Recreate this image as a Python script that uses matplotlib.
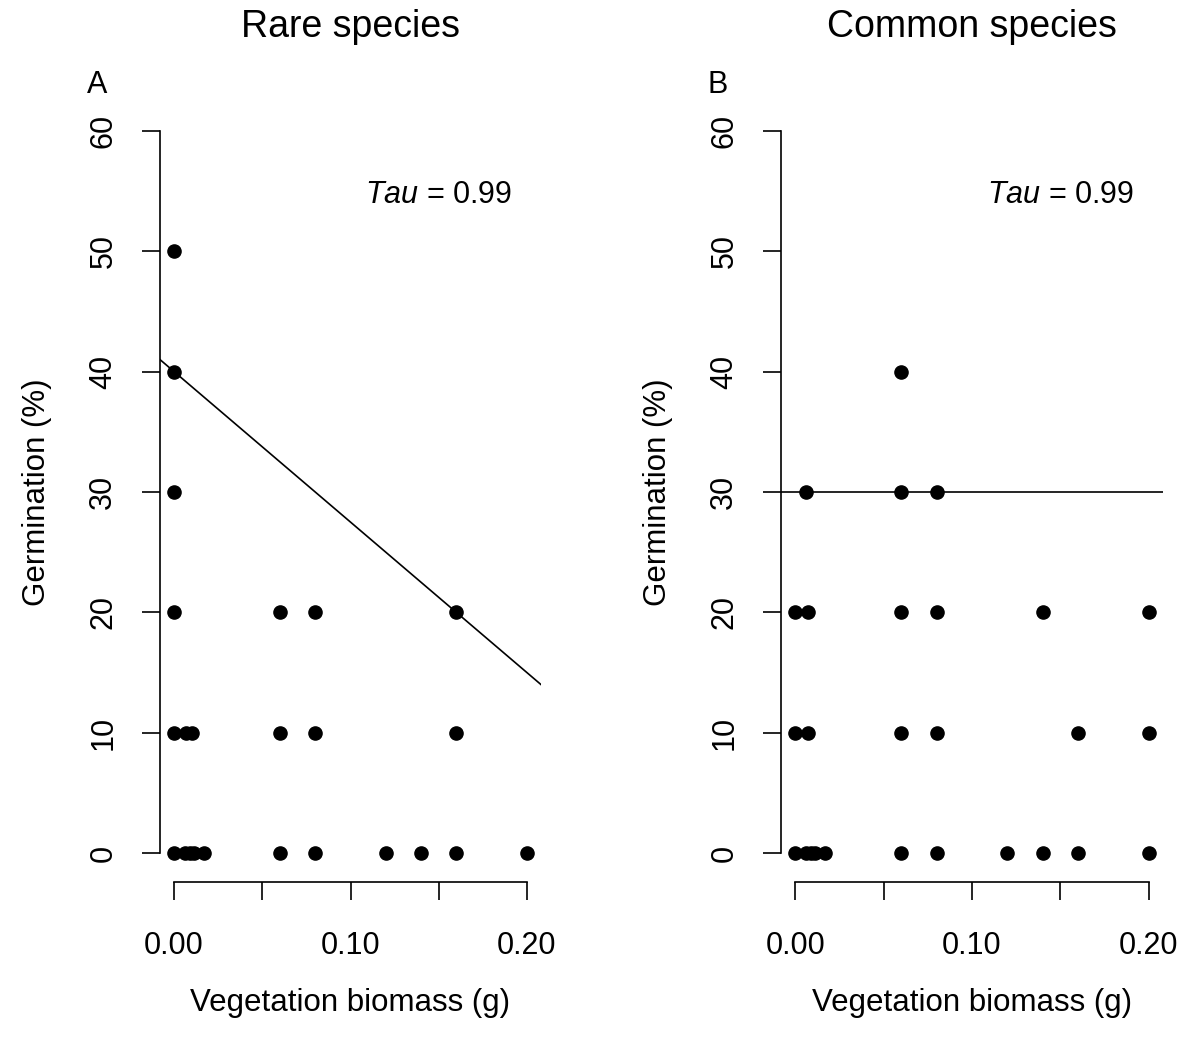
import matplotlib
matplotlib.use("Agg")
import matplotlib.pyplot as plt

plt.rcParams['font.family'] = ['Liberation Sans', 'DejaVu Sans']
plt.rcParams['mathtext.fontset'] = 'custom'
plt.rcParams['mathtext.rm'] = 'Liberation Sans'
plt.rcParams['mathtext.it'] = 'Liberation Sans:italic'

# --- data ---
rare_x = [0, 0, 0, 0, 0, 0,
          0.006, 0.009, 0.011, 0.017, 0.007, 0.01,
          0.06, 0.08, 0.12, 0.14, 0.16, 0.20,
          0.06, 0.08, 0.16,
          0.06, 0.08, 0.16]
rare_y = [0, 10, 20, 30, 40, 50,
          0, 0, 0, 0, 10, 10,
          0, 0, 0, 0, 0, 0,
          10, 10, 10,
          20, 20, 20]

common_x = [0, 0.006, 0.009, 0.011, 0.017, 0.06, 0.08, 0.12, 0.14, 0.16, 0.20,
            0, 0.007, 0.06, 0.08, 0.16, 0.20,
            0, 0.007, 0.06, 0.08, 0.14, 0.20,
            0.006, 0.06, 0.08,
            0.06]
common_y = [0, 0, 0, 0, 0, 0, 0, 0, 0, 0, 0,
            10, 10, 10, 10, 10, 10,
            20, 20, 20, 20, 20, 20,
            30, 30, 30,
            40]

rare_fit = (40, -125)      # intercept, slope of quantile regression line
common_fit = (30, 0)

titles = ["Rare species", "Common species"]
panel_tags = ["A", "B"]
tau_label = "Tau"
tau_value = "0.99"

W, H = 1189, 1042
fig = plt.figure(figsize=(W / 100, H / 100), dpi=100)

def px_axes(left, right, top, bottom):
    return fig.add_axes([left / W, 1 - bottom / H, (right - left) / W, (bottom - top) / H])

axes = [px_axes(160, 541, 102, 882), px_axes(781, 1163, 102, 882)]
data = [(rare_x, rare_y, rare_fit), (common_x, common_y, common_fit)]

for ax, (xs, ys, fit), title, tag in zip(axes, data, titles, panel_tags):
    ax.scatter(xs, ys, s=90, color='black', zorder=3, clip_on=False)
    ax.axline((0, fit[0]), slope=fit[1], color='black', lw=1.2)

    ax.set_xlim(-0.008, 0.208)
    ax.set_ylim(-2.4, 62.4)

    for side in ['top', 'right']:
        ax.spines[side].set_visible(False)
    ax.spines['left'].set_bounds(0, 60)
    ax.spines['bottom'].set_bounds(0, 0.2)
    for side in ['left', 'bottom']:
        ax.spines[side].set_linewidth(1.2)

    ax.set_xticks([0, 0.05, 0.10, 0.15, 0.20])
    ax.set_xticklabels(["0.00", "", "0.10", "", "0.20"])
    ax.set_yticks([0, 10, 20, 30, 40, 50, 60])
    ax.set_yticklabels(["0", "10", "20", "30", "40", "50", "60"], rotation=90, va='center')
    ax.tick_params(axis='both', direction='out', length=13, width=1.2, labelsize=22)
    ax.tick_params(axis='x', pad=22)
    ax.tick_params(axis='y', pad=17)

    ax.set_xlabel("Vegetation biomass (g)", fontsize=22.5, labelpad=20)
    ax.set_ylabel("Germination (%)", fontsize=22.5, labelpad=26)
    ax.set_title(title, fontsize=27, pad=47)

    ax.text(0.15, 54.7, f"$\\it{{{tau_label}}}$ = {tau_value}", fontsize=22,
            ha='center', va='center')
    ax.text(-0.165, 1.022, tag, transform=ax.transAxes,
            fontsize=22, ha='center', va='center')

fig.savefig("out.png", dpi=100, facecolor='white')
